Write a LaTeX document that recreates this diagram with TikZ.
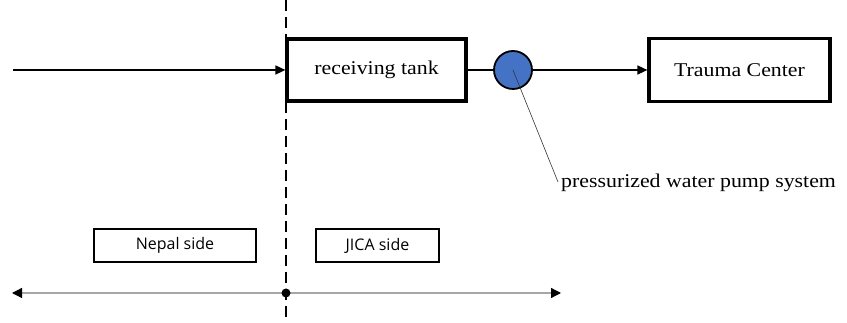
\documentclass[tikz,border=0pt]{standalone}
\usepackage{fontspec}
\newfontfamily\labelsans{Open Sans}
\newfontfamily\labelserif[FakeStretch=1.12]{Liberation Serif}
\usetikzlibrary{arrows.meta}
\begin{document}
\begin{tikzpicture}[x=1pt,y=1pt,
  bigbox/.style={draw=black,line width=3.2pt,minimum width=#1,minimum height=62pt,
    inner sep=0pt,font=\labelserif\fontsize{19.5}{22}\selectfont},
  sidebox/.style={draw=black,line width=1.3pt,minimum width=#1,minimum height=33pt,
    inner sep=0pt,font=\labelsans\fontsize{16}{19}\selectfont},
  flow/.style={line width=1.6pt,-{Triangle[length=10pt,width=9pt]}},
  pipe/.style={line width=1.3pt},
  span/.style={draw=black!35,line width=1.2pt,
    {Triangle[length=10pt,width=10pt,fill=black,color=black]}-{Triangle[length=10pt,width=10pt,fill=black,color=black]}},
  boundary/.style={line width=2.4pt,dash pattern=on 11pt off 6pt},
  leader/.style={draw=black!80,line width=0.6pt}]
\useasboundingbox (0,0) rectangle (847,323);

% boundary between the two sides
\coordinate (btop) at (286,323);
\coordinate (bbot) at (286,0);
\draw[boundary] (btop) -- (bbot);

% main water line
\coordinate (inlet) at (13,253);
\node[bigbox=179pt] (tank) at (376.5,253) {receiving tank};
\node[draw=black,line width=1.8pt,fill={rgb,255:red,68;green,114;blue,196},
  circle,minimum size=38pt,inner sep=0pt] (pump) at (513,253) {};
\node[bigbox=181pt,minimum height=63pt] (trauma) at (739.5,253) {Trauma Center};

\draw[flow] (inlet) -- (tank.west);
\draw[pipe] (tank.east) -- (pump.west);
\draw[flow] (pump.east) -- (trauma.west);

% pump label
\coordinate (lead) at (558,141);
\node[anchor=west,inner sep=0pt,font=\labelserif\fontsize{19.5}{22}\selectfont] (pumplabel) at (561,140)
  {pressurized water pump system};
\draw[leader] (pump.center) -- (lead);

% responsibility sides
\node[sidebox=162pt] (nepal) at (175,77.5) {Nepal side};
\node[sidebox=123pt] (jica) at (377.5,77.5) {JICA side};

\coordinate (sleft) at (12,30);
\coordinate (sright) at (561,30);
\draw[span] (sleft) -- (sright);
\node[circle,fill=black,minimum size=9pt,inner sep=0pt] (split) at (286,30) {};
\end{tikzpicture}
\end{document}
